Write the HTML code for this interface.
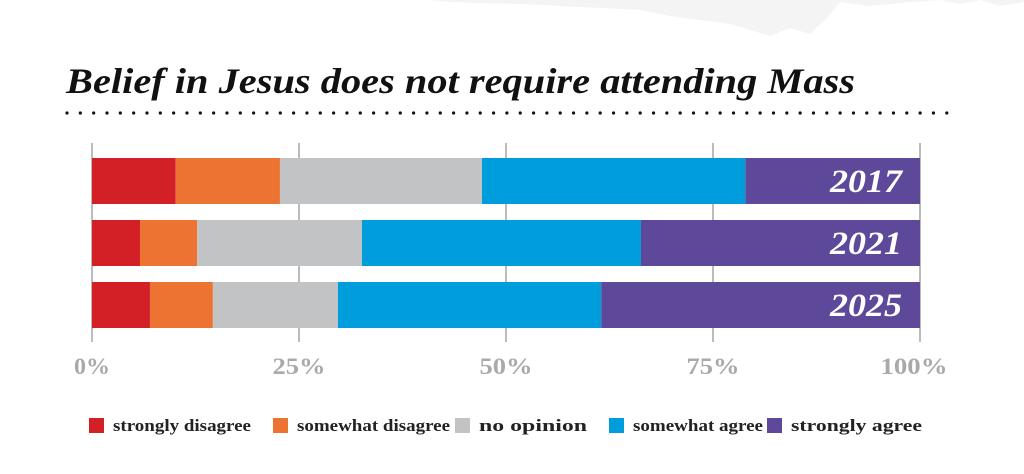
<!DOCTYPE html>
<html><head><meta charset="utf-8"><style>
body{margin:0;background:#fff;width:1024px;height:474px;overflow:hidden}
svg{display:block}
</style></head><body>
<svg id="chart" width="1024" height="474" xmlns="http://www.w3.org/2000/svg">
<polygon fill="#f4f4f4" points="430,0 1024,0 1024,2 1000,6 980,0 960,4 940,0 900,3 870,6 840,2 825,20 810,34 790,28 770,36 750,30 730,24 700,20 670,16 640,10 600,8 560,6 520,4 480,3 450,2"/>
<text x="66" y="93" font-family="Liberation Serif, serif" font-style="italic" font-weight="bold" font-size="36" textLength="789" lengthAdjust="spacingAndGlyphs" fill="#111">Belief in Jesus does not require attending Mass</text>
<g id="dots"></g>
<g id="grid"></g><g id="bars"></g><g id="ticks"></g><g id="legend"></g>
</svg>
<script>
const years=["2017","2021","2025"];
const categories=["strongly disagree","somewhat disagree","no opinion","somewhat agree","strongly agree"];
const stronglyDisagree=[10.1,5.8,7.0];
const somewhatDisagree=[12.6,6.9,7.6];
const noOpinion=[24.4,19.9,15.1];
const somewhatAgree=[31.8,33.7,31.8];
const stronglyAgree=[21.1,33.7,38.5];
const tickValues=[0,25,50,75,100];
const tickLabels=["0%","25%","50%","75%","100%"];
const colors=["#d32027","#ec7332","#c2c3c5","#009ddc","#5d4899"];
const series=[stronglyDisagree,somewhatDisagree,noOpinion,somewhatAgree,stronglyAgree];
const NS="http://www.w3.org/2000/svg";
const x=v=>92+v/100*828;
const rowY=i=>158+i*62;
const bh=46;
function mk(t,a,p){const e=document.createElementNS(NS,t);for(const k in a)e.setAttribute(k,a[k]);p.appendChild(e);return e;}
const dots=document.getElementById('dots');
for(let dx=67;dx<=956;dx+=13.33){mk('circle',{cx:dx,cy:113,r:1.6,fill:'#111'},dots);}
const grid=document.getElementById('grid'),ticks=document.getElementById('ticks');
const tickW=[36,53,53,53,67];
tickValues.forEach((v,i)=>{
 const l=mk('line',{x1:x(v),x2:x(v),y1:143,y2:342,stroke:'#bcbcbc','stroke-width':2},grid);
 
 
 const t=mk('text',{x:x(v)-tickW[i]/2+(i==4?-6:0),y:374,textLength:tickW[i],lengthAdjust:'spacingAndGlyphs','font-family':'Liberation Serif, serif','font-weight':'bold','font-size':23,fill:'#a9a9a9'},ticks);
 t.textContent=tickLabels[i];
 
 
});
const bars=document.getElementById('bars');
years.forEach((yr,i)=>{
 let acc=0;
 series.forEach((s,j)=>{
  const r=mk('rect',{x:x(acc),y:rowY(i),width:x(acc+s[i])-x(acc),height:bh,fill:colors[j]},bars);
  
  
  acc+=s[i];
 });
 const t=mk('text',{x:830,y:rowY(i)+34,textLength:72,lengthAdjust:'spacingAndGlyphs','font-family':'Liberation Serif, serif','font-style':'italic','font-weight':'bold','font-size':33,fill:'#fff'},bars);
 t.textContent=yr;
 
 
});
const legend=document.getElementById('legend');
const lx=[89,273,455,609,767];
const lw=[138,153,108,130,131];
categories.forEach((c,j)=>{
 const r=mk('rect',{x:lx[j],y:418,width:15,height:15,fill:colors[j]},legend);
 
 
 const t=mk('text',{x:lx[j]+24,y:431,textLength:lw[j],lengthAdjust:'spacingAndGlyphs','font-family':'Liberation Serif, serif','font-weight':'bold','font-size':17,fill:'#222'},legend);
 t.textContent=c;
 
 
});
</script>
</body></html>
